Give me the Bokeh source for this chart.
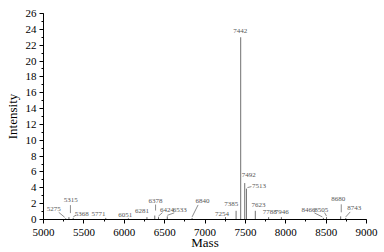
from bokeh.plotting import figure
from bokeh.models import Range1d, SingleIntervalTicker, ColumnDataSource
from bokeh.embed import file_html
from bokeh.resources import INLINE

# ---- data ----
masses = [5275, 5315, 5368, 5771, 6051, 6281, 6378, 6424, 6533, 6840, 7254,
          7385, 7442, 7492, 7513, 7623, 7788, 7946, 8466, 8505, 8680, 8743]
intensities = [0.15, 0.3, 0.2, 0.2, 0.15, 0.3, 0.5, 0.3, 0.4, 0.2, 0.3,
               1.1, 23.0, 4.6, 3.9, 1.1, 0.3, 0.3, 0.2, 0.3, 0.4, 0.2]
peak_labels = [str(m) for m in masses]

# ---- layout: label offsets in pixels relative to peak top (screen y down) ----
label_dx = [-12, 1.8, 8.6, -7.2, -3.1, -5, 0.8, 8.6, 12.4, 10.3, -3.6,
            -4.8, -0.4, 4.1, 12.5, 3.2, 1, 0.3, -14.8, -5.4, -2.4, 8.6]
label_dy = [-9.8, -17.6, -4.4, -4.4, -3.8, -6.6, -15, -7.6, -6.8, -17.4, -3.6,
            -6.3, -5.8, -7.6, -2.4, -5.3, -4.9, -4.9, -8.4, -7.6, -17.8, -10.4]
# leader lines: (peak index, start dx, start dy, end dx, end dy) in pixels
leaders = [
    (0, -1, -1, -7, -6),
    (1, 1.5, -4, 1.5, -12),
    (2, 0, -1, 3, -3),
    (6, 0.8, -5, 0.8, -11),
    (7, 0, -1, 4, -4.5),
    (8, 0, -1, 7, -3.5),
    (9, 0, -1, 6, -13),
    (14, 1, -1, 5, -2),
    (18, -1, -1, -9, -5),
    (19, 0, -1, -2, -4.5),
    (20, 0.6, -4, 0.6, -12),
    (21, 0, -1, 4.5, -6),
]

X0, X1, Y0, Y1 = 5000, 9000, 0, 26
W, H = 384, 252
BL, BR, BT, BB = 43, 18, 13, 33
FW, FH = W - BL - BR, H - BT - BB
sx = (X1 - X0) / FW
sy = (Y1 - Y0) / FH

p = figure(width=W, height=H,
           output_backend="svg", toolbar_location=None,
           x_range=Range1d(X0, X1), y_range=Range1d(Y0, Y1),
           min_border_left=BL, min_border_right=BR,
           min_border_top=BT, min_border_bottom=BB)
p.outline_line_color = None
p.xgrid.visible = False
p.ygrid.visible = False
p.background_fill_color = "white"
p.border_fill_color = "white"

# peaks as sticks
src = ColumnDataSource(dict(x=masses, y0=[0] * len(masses), y1=intensities,
                            t=peak_labels, dx=label_dx, dy=label_dy))
p.segment(x0="x", y0="y0", x1="x", y1="y1", source=src,
          line_color="#707070", line_width=1)

# leader lines
lx0, ly0, lx1, ly1 = [], [], [], []
for i, a, b, c, d in leaders:
    lx0.append(masses[i] + a * sx)
    ly0.append(intensities[i] - b * sy)
    lx1.append(masses[i] + c * sx)
    ly1.append(intensities[i] - d * sy)
p.segment(x0=lx0, y0=ly0, x1=lx1, y1=ly1, line_color="#707070", line_width=0.8)

p.text(x="x", y="y1", text="t", x_offset="dx", y_offset="dy", source=src,
       text_align="center", text_baseline="middle",
       text_font_size="7px", text_color="#555555",
       text_font={"value": "Liberation Serif"})

for ax in (p.xaxis[0], p.yaxis[0]):
    ax.axis_line_color = "black"
    ax.major_tick_line_color = "black"
    ax.minor_tick_line_color = "black"
    ax.major_tick_in = 0
    ax.major_tick_out = 4
    ax.minor_tick_in = 0
    ax.minor_tick_out = 2
    ax.major_label_text_font = "Liberation Serif"
    ax.major_label_text_font_size = "11px"
    ax.major_label_text_color = "black"
    ax.axis_label_text_font = "Liberation Serif"
    ax.axis_label_text_font_size = "13px"
    ax.axis_label_text_font_style = "normal"
    ax.axis_label_text_color = "black"

p.xaxis[0].ticker = SingleIntervalTicker(interval=500, num_minor_ticks=2)
p.yaxis[0].ticker = SingleIntervalTicker(interval=2, num_minor_ticks=2)
p.xaxis[0].axis_label = "Mass"
p.yaxis[0].axis_label = "Intensity"
p.xaxis[0].major_label_standoff = 5
p.yaxis[0].major_label_standoff = 3
p.xaxis[0].axis_label_standoff = -4
p.yaxis[0].axis_label_standoff = 3

open("out.html", "w").write(file_html(p, INLINE))
